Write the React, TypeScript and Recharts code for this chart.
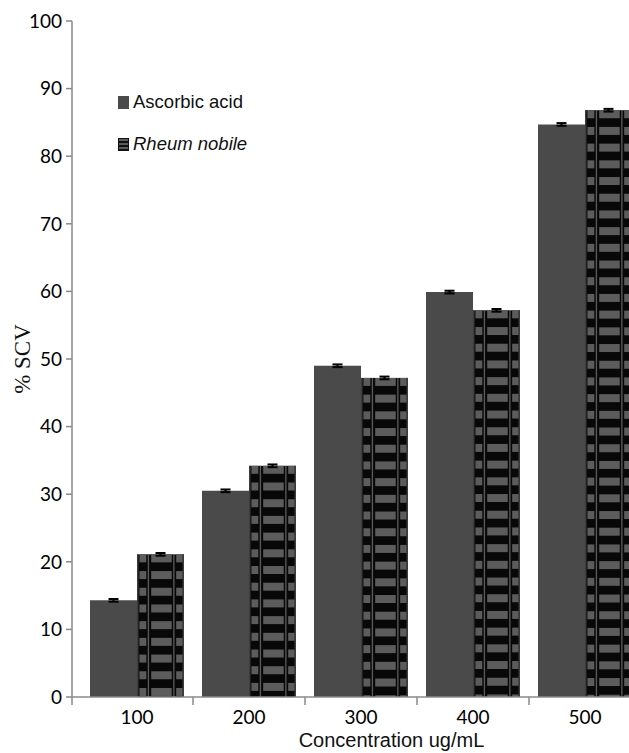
import React from "react";
import { BarChart, Bar, XAxis, YAxis, ErrorBar, Legend } from "recharts";

const categories = ["100", "200", "300", "400", "500"];
const ascorbicAcid = [14.3, 30.5, 49.0, 59.9, 84.7];
const ascorbicErr = [0.2, 0.2, 0.2, 0.2, 0.2];
const rheumNobile = [21.1, 34.2, 47.2, 57.2, 86.8];
const rheumErr = [0.2, 0.2, 0.2, 0.2, 0.2];
const yTicks = [0, 10, 20, 30, 40, 50, 60, 70, 80, 90, 100];

const data = categories.map((c, i) => ({
  conc: c,
  ascorbic: ascorbicAcid[i],
  ascorbicErr: ascorbicErr[i],
  rheum: rheumNobile[i],
  rheumErr: rheumErr[i],
}));

const W = 641;
const H = 753;
const LEFT = 72;
const X_PAD = 9;
const BAND = (W - LEFT - X_PAD) / categories.length;
const AXIS = "#8a8a8a";
const DARK = "#4a4a4a";
const STRIPE = "#5c5c5c";
const NUM_FONT = "Lato, 'Open Sans', sans-serif";
const TXT_FONT = "'Liberation Sans', Arial, sans-serif";

// striped Rheum nobile bar, drawn inside the rect the scale gives us
const RheumBar = (props: any) => {
  const { x, y, width: w, height: h } = props;
  if (!h || h <= 0) return null;
  const s = w / 48;
  const cols = [
    [2.5, 7],
    [14.5, 21],
    [40, 6.5],
  ];
  const bands: React.ReactNode[] = [];
  for (let t = 0, k = 0; t < h; t += 16.7, k++) {
    const bh = Math.min(8, h - t);
    cols.forEach(([cx, cw], j) =>
      bands.push(
        <rect key={`${k}-${j}`} x={x + cx * s} y={y + t} width={cw * s} height={bh} fill={STRIPE} />
      )
    );
  }
  return (
    <g>
      <rect x={x} y={y} width={w} height={h} fill="#080808" />
      <rect x={x} y={y} width={1.5} height={h} fill="#3c3c3c" />
      <rect x={x + w - 1.5} y={y} width={1.5} height={h} fill="#3c3c3c" />
      <rect x={x + 11 * s} y={y} width={1.3} height={h} fill={STRIPE} />
      <rect x={x + 37 * s} y={y} width={1.3} height={h} fill={STRIPE} />
      {bands}
    </g>
  );
};

const XTick = (props: any) => {
  const { x, y, payload, index } = props;
  const lineX = index === 0 ? x - BAND / 2 - X_PAD : x - BAND / 2;
  return (
    <g>
      <line x1={lineX} y1={y} x2={lineX} y2={y + 8} stroke={AXIS} strokeWidth={1.5} />
      <text x={x} y={y + 27} textAnchor="middle" fontFamily={NUM_FONT} fontSize={19} fill="#000">
        {payload.value}
      </text>
    </g>
  );
};

const LegendIcon = ({ striped }: { striped: boolean }) => (
  <svg width={11} height={13} style={{ display: "block" }}>
    <rect x={0} y={0} width={11} height={13} fill={striped ? "#111" : DARK} />
    {striped &&
      [1, 5, 9].map((yy) => <rect key={yy} x={1} y={yy} width={9} height={2} fill={STRIPE} />)}
  </svg>
);

const LegendBox = () => (
  <div style={{ fontFamily: TXT_FONT, fontSize: 18.5, color: "#111" }}>
    <div style={{ display: "flex", alignItems: "center", height: 20, marginBottom: 22 }}>
      <LegendIcon striped={false} />
      <span style={{ marginLeft: 4 }}>Ascorbic acid</span>
    </div>
    <div style={{ display: "flex", alignItems: "center", height: 20 }}>
      <LegendIcon striped={true} />
      <span style={{ marginLeft: 4, fontStyle: "italic" }}>Rheum nobile</span>
    </div>
  </div>
);

export default function App() {
  return (
    <div style={{ position: "absolute", left: 0, top: 0, width: 629, height: 753, overflow: "hidden", background: "#fff" }}>
      <BarChart
        width={W}
        height={H}
        data={data}
        margin={{ top: 21, right: 0, left: 0, bottom: 0 }}
        barCategoryGap={9}
        barGap={0}
      >
        <XAxis
          dataKey="conc"
          height={56}
          padding={{ left: X_PAD, right: 0 }}
          axisLine={{ stroke: AXIS, strokeWidth: 1.5 }}
          tickLine={false}
          tickSize={0}
          tickMargin={0}
          tick={<XTick />}
          interval={0}
          label={{
            content: ({ viewBox }: any) => (
              <text
                x={viewBox.x + viewBox.width / 2 + 35}
                y={viewBox.y + 50}
                textAnchor="middle"
                fontFamily={TXT_FONT}
                fontSize={20}
                fill="#111"
              >
                Concentration ug/mL
              </text>
            ),
          }}
        />
        <YAxis
          width={LEFT}
          domain={[0, 100]}
          ticks={yTicks}
          interval={0}
          axisLine={{ stroke: AXIS, strokeWidth: 1.5 }}
          tickLine={{ stroke: AXIS, strokeWidth: 1.5 }}
          tickSize={6}
          tickMargin={4}
          tick={{ fontFamily: NUM_FONT, fontSize: 19, fill: "#000" }}
          label={{
            content: ({ viewBox }: any) => {
              const cx = 22;
              const cy = viewBox.y + viewBox.height / 2;
              return (
                <text
                  x={cx}
                  y={cy}
                  transform={`rotate(-90 ${cx} ${cy})`}
                  textAnchor="middle"
                  dominantBaseline="central"
                  fontFamily="'Liberation Serif', 'Times New Roman', serif"
                  fontSize={23}
                  fill="#111"
                >
                  % SCV
                </text>
              );
            },
          }}
        />
        <Legend
          layout="vertical"
          align="center"
          verticalAlign="middle"
          content={<LegendBox />}
          wrapperStyle={{ left: 118, top: 92, width: 200, height: 80 }}
        />
        <Bar dataKey="ascorbic" name="Ascorbic acid" fill={DARK} isAnimationActive={false}>
          <ErrorBar dataKey="ascorbicErr" width={5} strokeWidth={2} stroke="#000" direction="y" isAnimationActive={false} />
        </Bar>
        <Bar dataKey="rheum" name="Rheum nobile" fill="#111" shape={<RheumBar />} isAnimationActive={false}>
          <ErrorBar dataKey="rheumErr" width={5} strokeWidth={2} stroke="#000" direction="y" isAnimationActive={false} />
        </Bar>
      </BarChart>
    </div>
  );
}
